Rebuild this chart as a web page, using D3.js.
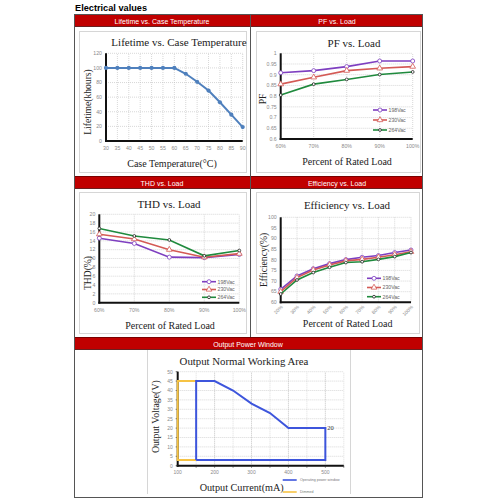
<!DOCTYPE html>
<html><head><meta charset="utf-8">
<script src="https://cdn.jsdelivr.net/npm/d3@7"></script>
<style>body{margin:0;background:#fff}svg{display:block}</style>
</head><body>
<svg id="c" width="500" height="500"></svg>
<script>
// ---------- DATA ----------
const lifeTemps = [30,35,40,45,50,55,60,65,70,75,80,85,90];
const lifeValues = [100,100,100,100,100,100,100,92,81,69,53,36,19];
const lifeYTicks = [0,20,40,60,80,100,120];

const seriesNames = ['198Vac','230Vac','264Vac'];
const loadPF = ['60%','70%','80%','90%','100%'];
const pf198 = [0.909,0.919,0.938,0.964,0.964];
const pf230 = [0.856,0.888,0.919,0.930,0.938];
const pf264 = [0.805,0.856,0.878,0.901,0.913];
const pfYTicks = [0.6,0.65,0.7,0.75,0.8,0.85,0.9,0.95,1];

const loadTHD = ['60%','70%','80%','90%','100%'];
const thd198 = [14.6,13.4,10.3,10.2,10.9];
const thd230 = [15.5,14.4,12.0,10.3,11.1];
const thd264 = [16.8,15.1,14.2,10.6,11.8];
const thdYTicks = [0,2,4,6,8,10,12,14,16,18,20];

const loadEff = ['20%','30%','40%','50%','60%','70%','80%','90%','100%'];
const eff198 = [66.1,72.4,75.8,78.2,80.1,81.2,82.0,83.4,84.6];
const eff230 = [65.0,71.6,75.2,77.6,79.5,80.2,81.2,82.4,83.8];
const eff264 = [63.9,70.5,74.0,76.5,78.7,79.1,80.2,81.5,83.4];
const effYTicks = [60,65,70,75,80,85,90,95,100];

const opCurrent = [150,150,200,250,300,350,400,500,500,150];
const opVoltage = [3,45,45,40,33,28,20,20,3,3];
const dimCurrent = [150,100,100,150];
const dimVoltage = [45,45,3,3];
const owXTicks = [100,200,300,400,500];
const owXGrid = [150,200,250,300,350,400,450,500,550];
const owYTicks = [0,5,10,15,20,25,30,35,40,45,50];
const owLegend = ['Operating power window','Dimmed'];

// ---------- STYLE ----------
const RED = '#c00000';
const serif = 'Liberation Serif, Times New Roman, serif';
const sans = 'Liberation Sans, Arial, sans-serif';
const colors = ['#7e3fc0','#d45a55','#1f8a3d'];
const svg = d3.select('#c');

// ---------- PAGE FRAME ----------
svg.append('text').attr('x',75).attr('y',11).attr('font-family',sans).attr('font-weight','bold')
  .attr('font-size',9.2).text('Electrical values');

function redBar(y, x0, x1){
  svg.append('rect').attr('x',x0).attr('y',y).attr('width',x1-x0).attr('height',13).attr('fill',RED);
  svg.append('line').attr('x1',x0).attr('x2',x1).attr('y1',y+0.5).attr('y2',y+0.5).attr('stroke','#7a0000').attr('stroke-width',1);
  svg.append('line').attr('x1',x0).attr('x2',x1).attr('y1',y+12.5).attr('y2',y+12.5).attr('stroke','#6a2020').attr('stroke-width',1);
}
function barText(x,y,t){
  svg.append('text').attr('x',x).attr('y',y).attr('text-anchor','middle').attr('font-family',sans)
    .attr('font-size',7).attr('fill','#fff').text(t);
}
redBar(14,74,423); redBar(176,74,423); redBar(337,74,423);
barText(162,23.5,'Lifetime vs. Case Temperature'); barText(337,23.5,'PF vs. Load');
barText(162,185.5,'THD vs. Load'); barText(337,185.5,'Efficiency vs. Load');
barText(248,346.5,'Output Power Window');

// outer frame & dividers
svg.append('rect').attr('x',74.5).attr('y',14.5).attr('width',348).attr('height',483)
  .attr('fill','none').attr('stroke','#555').attr('stroke-width',1);
svg.append('line').attr('x1',250.5).attr('x2',250.5).attr('y1',14).attr('y2',337).attr('stroke','#555');

function panel(x,y,w,h){
  svg.append('rect').attr('x',x+0.5).attr('y',y+0.5).attr('width',w).attr('height',h)
    .attr('fill','#fff').attr('stroke','#d6d6d6').attr('stroke-width',1);
}
panel(79,31,167,141); panel(256,31,164,141);
panel(79,192,167,141); panel(256,192,163,141);
svg.append('line').attr('x1',147.5).attr('x2',147.5).attr('y1',350).attr('y2',494).attr('stroke','#d6d6d6');
svg.append('line').attr('x1',350.5).attr('x2',350.5).attr('y1',350).attr('y2',494).attr('stroke','#d6d6d6');

// ---------- GENERIC LINE CHART ----------
function marker(g, shape, x, y, color, r){
  if(shape==='tri'){
    g.append('path').attr('d',d3.symbol(d3.symbolTriangle, 14)()).attr('transform',`translate(${x},${y})`)
      .attr('fill','#fff').attr('stroke',color).attr('stroke-width',0.8);
  } else if(shape==='dot'){
    g.append('circle').attr('cx',x).attr('cy',y).attr('r',r||2.1).attr('fill',color);
  } else {
    g.append('circle').attr('cx',x).attr('cy',y).attr('r',r||2).attr('fill','#fff').attr('stroke',color).attr('stroke-width',0.8);
  }
}

function lineChart(c){
  const g = svg.append('g');
  const x = d3.scalePoint().domain(c.cats).range(c.xr);
  const y = d3.scaleLinear().domain(c.yd).range(c.yr);
  // grid
  g.selectAll('.vg').data(c.cats).enter().append('line')
    .attr('x1',d=>x(d)).attr('x2',d=>x(d)).attr('y1',c.yr[0]).attr('y2',c.yr[1])
    .attr('stroke','#bdbdbd').attr('stroke-width',0.6).attr('stroke-dasharray','1,1');
  g.selectAll('.hg').data(c.yt).enter().append('line')
    .attr('x1',c.xr[0]).attr('x2',c.xr[1]).attr('y1',d=>y(d)).attr('y2',d=>y(d))
    .attr('stroke','#bdbdbd').attr('stroke-width',0.6).attr('stroke-dasharray','1,1');
  // axes
  g.append('line').attr('x1',c.xr[0]).attr('x2',c.xr[0]).attr('y1',c.yr[0]+1).attr('y2',c.yr[1]).attr('stroke','#111').attr('stroke-width',2);
  g.append('line').attr('x1',c.xr[0]-1).attr('x2',c.xr[1]).attr('y1',c.yr[0]).attr('y2',c.yr[0]).attr('stroke','#111').attr('stroke-width',2);
  // tick labels
  g.selectAll('.yl').data(c.yt).enter().append('text')
    .attr('x',c.xr[0]-4).attr('y',d=>y(d)+1.8).attr('text-anchor','end')
    .attr('font-family',sans).attr('font-size',5.2).attr('fill','#8a8a8a').text(d=>c.yfmt?c.yfmt(d):d);
  if(c.rotX){
    g.selectAll('.xl').data(c.cats).enter().append('text')
      .attr('transform',d=>`translate(${x(d)+2.5},${c.yr[0]+5}) rotate(-45)`).attr('text-anchor','end')
      .attr('font-family',sans).attr('font-size',5).attr('fill','#8a8a8a').text(d=>d);
  } else {
    g.selectAll('.xl').data(c.cats).enter().append('text')
      .attr('x',d=>x(d)).attr('y',c.yr[0]+9).attr('text-anchor','middle')
      .attr('font-family',sans).attr('font-size',5.2).attr('fill','#8a8a8a').text(d=>d);
  }
  // titles
  g.append('text').attr('x',c.title[0]).attr('y',c.title[1]).attr('text-anchor','middle')
    .attr('font-family',serif).attr('font-size',11).attr('fill','#222').text(c.title[2]);
  g.append('text').attr('x',c.xt[0]).attr('y',c.xt[1]).attr('text-anchor','middle')
    .attr('font-family',serif).attr('font-size',10).attr('fill','#222').text(c.xt[2]);
  g.append('text').attr('transform',`translate(${c.ytl[0]},${c.ytl[1]}) rotate(-90)`).attr('text-anchor','middle')
    .attr('font-family',serif).attr('font-size',9.6).attr('fill','#222').text(c.ytl[2]);
  // series
  c.series.forEach(s=>{
    const line = d3.line().x((d,i)=>x(c.cats[i])).y(d=>y(d));
    g.append('path').attr('d',line(s.values)).attr('fill','none').attr('stroke',s.color).attr('stroke-width',s.w||1.6);
    s.values.forEach((v,i)=>marker(g, s.shape, x(c.cats[i]), y(v), s.mcolor||s.color, s.r));
  });
  // legend
  if(c.legend){
    c.series.forEach((s,i)=>{
      const ly = c.legend[1] + i*c.legend[2];
      const lx = c.legend[0];
      g.append('line').attr('x1',lx).attr('x2',lx+14).attr('y1',ly).attr('y2',ly).attr('stroke',s.color).attr('stroke-width',1.6);
      marker(g, s.shape, lx+7, ly, s.mcolor||s.color, s.r);
      g.append('text').attr('x',lx+15.5).attr('y',ly+1.8).attr('font-family',sans).attr('font-size',5.2)
        .attr('fill','#666').text(s.name);
    });
  }
}

function vacSeries(a,b,c){
  return [
    {name:seriesNames[0], values:a, color:colors[0], shape:'circle'},
    {name:seriesNames[1], values:b, color:colors[1], shape:'tri'},
    {name:seriesNames[2], values:c, color:colors[2], shape:'circle', mcolor:'#222', r:1.4}
  ];
}

// Chart 1
lineChart({cats:lifeTemps, xr:[106,242.7], yd:[0,120], yr:[141,53.3], yt:lifeYTicks,
  title:[179,46,'Lifetime vs. Case Temperature'], xt:[172,167,'Case Temperature(°C)'],
  ytl:[91,102,'Lifetime(khours)'],
  series:[{name:'Lifetime', values:lifeValues, color:'#4f80bd', shape:'dot', w:2}]});

// Chart 2
lineChart({cats:loadPF, xr:[280.7,412.7], yd:[0.6,1], yr:[139,53.3], yt:pfYTicks,
  yfmt:d=>String(+d.toFixed(2)),
  title:[354,47,'PF vs. Load'], xt:[347,165,'Percent of Rated Load'],
  ytl:[266,99,'PF'], series:vacSeries(pf198,pf230,pf264), legend:[373,110,10]});

// Chart 3
lineChart({cats:loadTHD, xr:[99.3,239.3], yd:[0,20], yr:[302.7,214.3], yt:thdYTicks,
  title:[169,208,'THD vs. Load'], xt:[170,329,'Percent of Rated Load'],
  ytl:[91,273,'THD(%)'], series:vacSeries(thd198,thd230,thd264), legend:[202,281.7,7.8]});

// Chart 4
lineChart({cats:loadEff, xr:[280.7,411], yd:[60,100], yr:[302.3,217.3], yt:effYTicks, rotX:true,
  title:[347,209,'Efficiency vs. Load'], xt:[347.7,326.5,'Percent of Rated Load'],
  ytl:[266.5,260,'Efficiency(%)'], series:vacSeries(eff198,eff230,eff264), legend:[367,278.3,9.2]});

// ---------- Chart 5: Output power window ----------
(function(){
  const g = svg.append('g');
  const x = d3.scaleLinear().domain([100,550]).range([177.7,343.8]);
  const y = d3.scaleLinear().domain([0,50]).range([465.7,371.7]);
  g.selectAll('.vg').data(owXGrid).enter().append('line')
    .attr('x1',d=>x(d)).attr('x2',d=>x(d)).attr('y1',y(0)).attr('y2',y(50))
    .attr('stroke',d=>d%100===0?'#9a9a9a':'#c8c8c8').attr('stroke-width',0.6).attr('stroke-dasharray','1,1');
  g.selectAll('.hg').data(owYTicks).enter().append('line')
    .attr('x1',x(100)).attr('x2',x(550)).attr('y1',d=>y(d)).attr('y2',d=>y(d))
    .attr('stroke','#bdbdbd').attr('stroke-width',0.6).attr('stroke-dasharray','1,1');
  // axes
  g.append('line').attr('x1',x(100)).attr('x2',x(100)).attr('y1',y(0)+1).attr('y2',y(50)).attr('stroke','#111').attr('stroke-width',2);
  g.append('line').attr('x1',x(100)-1).attr('x2',x(550)).attr('y1',y(0)).attr('y2',y(0)).attr('stroke','#111').attr('stroke-width',2);
  g.selectAll('.xt').data(owXGrid).enter().append('line')
    .attr('x1',d=>x(d)).attr('x2',d=>x(d)).attr('y1',y(0)).attr('y2',y(0)+2).attr('stroke','#333').attr('stroke-width',0.7);
  g.selectAll('.yt').data(owYTicks).enter().append('line')
    .attr('x1',x(100)-2).attr('x2',x(100)).attr('y1',d=>y(d)).attr('y2',d=>y(d)).attr('stroke','#333').attr('stroke-width',0.7);
  g.selectAll('.yl').data(owYTicks).enter().append('text')
    .attr('x',x(100)-5).attr('y',d=>y(d)+1.8).attr('text-anchor','end')
    .attr('font-family',sans).attr('font-size',5).attr('fill','#8a8a8a').text(d=>d);
  g.selectAll('.xl').data(owXTicks).enter().append('text')
    .attr('x',d=>x(d)).attr('y',y(0)+8.5).attr('text-anchor','middle')
    .attr('font-family',sans).attr('font-size',5).attr('fill','#8a8a8a').text(d=>d);
  // lines
  const ln = d3.line().x(d=>x(d[0])).y(d=>y(d[1]));
  g.append('path').attr('d',ln(dimCurrent.map((c,i)=>[c,dimVoltage[i]]))).attr('fill','none')
    .attr('stroke','#f6c344').attr('stroke-width',2);
  g.append('path').attr('d',ln(opCurrent.map((c,i)=>[c,opVoltage[i]]))).attr('fill','none')
    .attr('stroke','#3d55dc').attr('stroke-width',2);
  g.append('text').attr('x',x(500)+2).attr('y',y(20)+2).attr('font-family',serif).attr('font-size',6.5)
    .attr('fill','#333').text('20');
  // titles
  g.append('text').attr('x',244).attr('y',364.5).attr('text-anchor','middle').attr('font-family',serif)
    .attr('font-size',10.8).attr('fill','#222').text('Output Normal Working Area');
  g.append('text').attr('x',241.7).attr('y',491).attr('text-anchor','middle').attr('font-family',serif)
    .attr('font-size',10.2).attr('fill','#222').text('Output Current(mA)');
  g.append('text').attr('transform','translate(158.5,416.7) rotate(-90)').attr('text-anchor','middle')
    .attr('font-family',serif).attr('font-size',9.8).attr('fill','#222').text('Output Voltage(V)');
  // legend
  const lc = ['#3d55dc','#f6c344'];
  [480,492].forEach((ly,i)=>{
    g.append('line').attr('x1',282.7).attr('x2',296.7).attr('y1',ly).attr('y2',ly).attr('stroke',lc[i]).attr('stroke-width',1.6);
    g.append('text').attr('x',300).attr('y',ly+1.2).attr('font-family',sans).attr('font-size',3.6)
      .attr('fill','#777').text(owLegend[i]);
  });
})();
</script>
</body></html>
